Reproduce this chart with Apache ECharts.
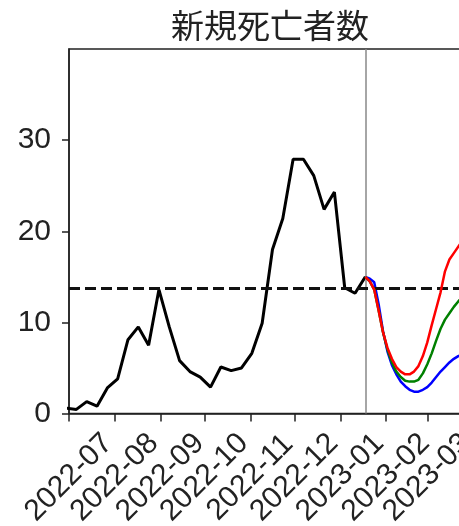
<!DOCTYPE html>
<html>
<head>
<meta charset="utf-8">
<script src="https://cdn.jsdelivr.net/npm/echarts@6/dist/echarts.min.js"></script>
<style>html,body{margin:0;padding:0;background:#fff;}#c{width:459px;height:526px;}</style>
</head>
<body>
<div id="c"></div>
<script>
// ---- data ----
const titleText = '新規死亡者数';
const observedDates = ['2022-06-29','2022-07-06','2022-07-13','2022-07-20','2022-07-27','2022-08-03','2022-08-10','2022-08-17','2022-08-24','2022-08-31','2022-09-07','2022-09-14','2022-09-21','2022-09-28','2022-10-05','2022-10-12','2022-10-19','2022-10-26','2022-11-02','2022-11-09','2022-11-16','2022-11-23','2022-11-30','2022-12-07','2022-12-14','2022-12-21','2022-12-28','2023-01-04','2023-01-11','2023-01-18'];
const observedValues = [0.6,0.45,1.3,0.8,2.8,3.8,8.1,9.5,7.5,13.6,9.5,5.8,4.6,4.0,2.9,5.1,4.7,5.0,6.6,9.9,18.0,21.4,27.9,27.9,26.1,22.4,24.3,13.8,13.2,15.0];
const forecastDates = ['2023-01-18','2023-01-21','2023-01-24','2023-01-27','2023-01-30','2023-02-02','2023-02-05','2023-02-08','2023-02-11','2023-02-14','2023-02-17','2023-02-20','2023-02-23','2023-02-26','2023-03-01','2023-03-04','2023-03-07','2023-03-10','2023-03-13','2023-03-16','2023-03-19','2023-03-22','2023-03-25','2023-03-28','2023-03-31'];
const forecastRed   = [15.0,14.5,13.6,11.3,8.9,7.2,6.0,5.1,4.6,4.3,4.3,4.6,5.2,6.3,7.8,9.7,11.5,13.3,15.6,16.9,17.6,18.3,19.0,19.6,20.2];
const forecastGreen = [15.0,14.5,13.6,11.3,8.9,7.0,5.6,4.6,4.0,3.6,3.5,3.5,3.7,4.4,5.4,6.6,8.0,9.3,10.3,11.0,11.7,12.3,12.8,13.2,13.5];
const forecastBlue  = [15.0,14.8,14.4,12.0,9.0,6.8,5.3,4.3,3.5,3.0,2.6,2.4,2.4,2.6,2.9,3.4,4.0,4.6,5.1,5.6,6.0,6.3,6.5,6.7,6.8];
const thresholdValue = 13.7;
const lastObservedDate = '2023-01-18';
const xTickDates = ['2022-07-01','2022-08-01','2022-09-01','2022-10-01','2022-11-01','2022-12-01','2023-01-01','2023-02-01','2023-03-01'];
const xTickLabels = ['2022-07','2022-08','2022-09','2022-10','2022-11','2022-12','2023-01','2023-02','2023-03'];
const yTicks = [0,10,20,30];
const xMin = '2022-07-01', xMax = '2023-04-01';
const yMin = 0, yMax = 40;

// ---- build ----
function ts(s){ const p = s.split('-').map(Number); return Date.UTC(p[0], p[1]-1, p[2]); }
const tickTs = xTickDates.map(ts);
const labelMap = {}; tickTs.forEach((t,i)=>labelMap[t]=xTickLabels[i]);
const pair = (d, v) => d.map((x,i)=>[ts(x), v[i]]);
// split ticks into two interleaved axes so rotated labels are never auto-hidden
const ticksA = tickTs.filter((t,i)=>i%2===0), ticksB = tickTs.filter((t,i)=>i%2===1);

const chart = echarts.init(document.getElementById('c'), null, {renderer:'canvas'});
const axisColor = '#222';
const tickFont = {fontSize: 30, fontFamily: 'Liberation Sans, Arial, sans-serif', color: '#222'};
function xAxisDef(vals, showLine){
  return {
    type: 'value', min: ts(xMin), max: ts(xMax), position: 'bottom',
    axisLine: {show: showLine, onZero: false, lineStyle: {color: axisColor, width: 1.5}},
    axisTick: {show: true, length: 8, lineStyle: {color: axisColor, width: 1.5}, customValues: vals},
    axisLabel: Object.assign({rotate: 45, align: 'center', verticalAlign: 'middle', margin: 64, hideOverlap: false,
      showMinLabel: true, showMaxLabel: true, customValues: vals,
      formatter: v => labelMap[v] || ''}, tickFont),
    splitLine: {show: false}
  };
}
chart.setOption({
  animation: false,
  backgroundColor: '#fff',
  graphic: [{type:'text', x: 270, y: 25, style: {text: titleText, fontSize: 33, fontFamily: 'Noto Sans CJK JP', fill: '#222', textAlign: 'center', textVerticalAlign: 'middle'}}],
  grid: {left: 69, top: 49, width: 404, height: 364.5, outerBoundsMode: 'none', containLabel: false, show: true, borderColor: axisColor, borderWidth: 1.5, backgroundColor: 'transparent'},
  xAxis: [xAxisDef(ticksA, true), xAxisDef(ticksB, false)],
  yAxis: {
    type: 'value', min: yMin, max: yMax,
    axisLine: {show: true, lineStyle: {color: axisColor, width: 1.5}},
    axisTick: {show: true, length: 7, lineStyle: {color: axisColor, width: 1.5}, customValues: yTicks},
    axisLabel: Object.assign({margin: 18, showMinLabel: true, showMaxLabel: true, customValues: yTicks, formatter: v => yTicks.indexOf(v) >= 0 ? String(v) : ''}, tickFont),
    splitLine: {show: false}
  },
  series: [
    {type: 'line', data: pair(observedDates, observedValues), symbol: 'none', clip: true,
      lineStyle: {color: '#000', width: 3}, z: 3,
      markLine: {silent: true, symbol: ['none','none'], label: {show: false},
        data: [
          {xAxis: ts(lastObservedDate), lineStyle: {color: '#888', width: 1.5, type: 'solid'}},
          {yAxis: thresholdValue, lineStyle: {color: '#111', width: 3, type: [11, 5]}}
        ]}},
    {type: 'line', data: pair(forecastDates, forecastBlue), symbol: 'none', clip: true, lineStyle: {color: '#0000ff', width: 2.5}, z: 4},
    {type: 'line', data: pair(forecastDates, forecastGreen), symbol: 'none', clip: true, lineStyle: {color: '#008000', width: 2.5}, z: 5},
    {type: 'line', data: pair(forecastDates, forecastRed), symbol: 'none', clip: true, lineStyle: {color: '#ff0000', width: 2.5}, z: 6}
  ]
});
</script>
</body>
</html>
